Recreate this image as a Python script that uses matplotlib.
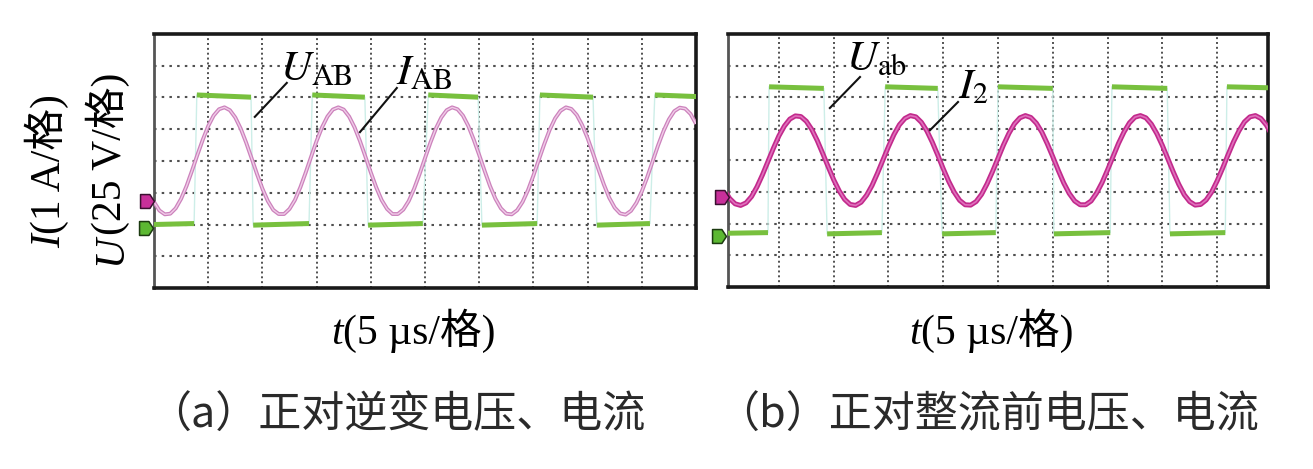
import numpy as np
import matplotlib
matplotlib.use("Agg")
import matplotlib.pyplot as plt
from matplotlib.path import Path

plt.rcParams['mathtext.fontset'] = 'stix'

# ---------------- data (divisions) ----------------
t_samp = np.round(np.arange(0, 101) * 0.1, 1)

# panel (a): inverter current I_AB (div, 1 A/div)
iab = [-1.29, -1.56, -1.68, -1.66, -1.49, -1.19, -0.79, -0.31, 0.19, 0.67,
       1.10, 1.43, 1.63, 1.69, 1.60, 1.37, 1.02, 0.58, 0.09, -0.41,
       -0.87, -1.26, -1.54, -1.67, -1.67, -1.51, -1.23, -0.83, -0.36, 0.14,
       0.63, 1.06, 1.40, 1.62, 1.69, 1.62, 1.40, 1.06, 0.63, 0.14,
       -0.36, -0.83, -1.23, -1.51, -1.67, -1.67, -1.53, -1.26, -0.87, -0.41,
       0.09, 0.58, 1.02, 1.37, 1.60, 1.69, 1.63, 1.43, 1.10, 0.67,
       0.19, -0.31, -0.79, -1.19, -1.49, -1.66, -1.68, -1.55, -1.29, -0.92,
       -0.46, 0.04, 0.53, 0.98, 1.34, 1.58, 1.69, 1.64, 1.45, 1.13,
       0.72, 0.24, -0.26, -0.74, -1.16, -1.47, -1.65, -1.69, -1.57, -1.32,
       -0.96, -0.51, -0.01, 0.49, 0.94, 1.31, 1.57, 1.68, 1.65, 1.48,
       1.17]

# panel (a): inverter voltage U_AB segments
uab_t0 = [0.00, 0.79, 1.83, 2.92, 3.95, 5.06, 6.05, 7.12, 8.17, 9.24]
uab_t1 = [0.74, 1.79, 2.86, 3.89, 4.96, 5.98, 7.07, 8.10, 9.15, 10.00]
uab_v0 = [-2.00, 2.08, -2.02, 2.08, -2.02, 2.08, -2.02, 2.08, -2.02, 2.08]
uab_v1 = [-1.97, 2.01, -1.97, 2.01, -1.97, 2.01, -1.97, 2.01, -1.97, 2.03]

# panel (b): rectifier-input current I_2
i2 = [-0.92, -1.20, -1.37, -1.42, -1.34, -1.14, -0.83, -0.45, -0.03, 0.39,
      0.78, 1.09, 1.31, 1.41, 1.39, 1.24, 0.98, 0.63, 0.22, -0.20,
      -0.61, -0.96, -1.23, -1.39, -1.42, -1.32, -1.10, -0.79, -0.40, 0.02,
      0.44, 0.82, 1.13, 1.33, 1.42, 1.38, 1.21, 0.94, 0.58, 0.17,
      -0.26, -0.66, -1.00, -1.26, -1.40, -1.41, -1.30, -1.07, -0.74, -0.35,
      0.07, 0.49, 0.86, 1.16, 1.35, 1.42, 1.36, 1.18, 0.90, 0.53,
      0.12, -0.31, -0.71, -1.04, -1.28, -1.40, -1.40, -1.28, -1.03, -0.70,
      -0.30, 0.12, 0.54, 0.90, 1.19, 1.37, 1.42, 1.35, 1.15, 0.85,
      0.48, 0.06, -0.36, -0.75, -1.08, -1.30, -1.41, -1.39, -1.25, -1.00,
      -0.65, -0.25, 0.18, 0.59, 0.94, 1.22, 1.38, 1.42, 1.33, 1.12,
      0.81]

# panel (b): rectifier-input voltage U_ab segments
uab2_t0 = [0.07, 0.82, 1.88, 2.94, 3.98, 5.00, 6.02, 7.08, 8.14, 9.18]
uab2_t1 = [0.80, 1.82, 2.88, 3.90, 4.96, 6.00, 7.05, 8.09, 9.15, 9.93]
uab2_v0 = [-2.30, 2.33, -2.32, 2.33, -2.32, 2.33, -2.32, 2.33, -2.32, 2.33]
uab2_v1 = [-2.28, 2.28, -2.28, 2.28, -2.28, 2.28, -2.28, 2.28, -2.28, 2.30]

# channel ground markers (x, y) in div
mark_a_i = (-0.13, -1.26)
mark_a_u = (-0.15, -2.11)
mark_b_i = (-0.04, -1.16)
mark_b_u = (-0.10, -2.39)

x_label = "(5 µs/格)"
y_label_i = "(1 A/格)"
y_label_u = "(25 V/格)"
captions = ["（a）正对逆变电压、电流", "（b）正对整流前电压、电流"]

# ---------------- figure ----------------
W, H = 1313, 469
fig = plt.figure(figsize=(W / 100, H / 100), dpi=100)

def fx(px):
    return px / W

def fy(py):
    return 1 - py / H

axA = fig.add_axes([fx(154), fy(288), fx(696) - fx(154), fy(34) - fy(288)])
axB = fig.add_axes([fx(728), fy(287), fx(1268) - fx(728), fy(34) - fy(287)])

GREEN = '#78c03e'
marker_path = Path([(-1, -1), (0.35, -1), (1, 0), (0.35, 1), (-1, 1), (-1, -1)],
                   [Path.MOVETO, Path.LINETO, Path.LINETO, Path.LINETO, Path.LINETO, Path.CLOSEPOLY])

def scope(ax, xlim):
    ax.set_xlim(*xlim)
    ax.set_ylim(-4, 4)
    ax.set_xticks([])
    ax.set_yticks([])
    for k in range(1, 10):
        ax.axvline(k, color='#505050', lw=1.4, ls=(0, (1.0, 1.5)), zorder=1)
    for k in range(-3, 4):
        ax.axhline(k, color='#505050', lw=1.5, ls=(0, (1.2, 2.5)), zorder=1)
    for s in ['top', 'bottom', 'right']:
        ax.spines[s].set_linewidth(2.6)
        ax.spines[s].set_color('#1a1a1a')
    ax.spines['left'].set_linewidth(2.0)
    ax.spines['left'].set_color('#555555')

def draw_voltage(ax, t0, t1, v0, v1):
    xs, ys = [], []
    for a, b, p, q in zip(t0, t1, v0, v1):
        xs += [a, b]
        ys += [p, q]
    ax.plot(xs, ys, color='#cdeee8', lw=1.0, zorder=2)
    for a, b, p, q in zip(t0, t1, v0, v1):
        ax.plot([a, b], [p, q], color=GREEN, lw=3.6, solid_capstyle='butt', zorder=3)

def draw_current(ax, t, v, outer, inner, lw_o, lw_i):
    ax.plot(t, v, color=outer, lw=lw_o, zorder=4, solid_capstyle='butt')
    ax.plot(t, v, color=inner, lw=lw_i, zorder=5, solid_capstyle='butt')

def draw_markers(ax, mi, mu):
    ax.plot([mi[0]], [mi[1]], marker=marker_path, ms=10, color='#c8309a',
            mec='#3a1030', mew=1.1, clip_on=False, zorder=10)
    ax.plot([mu[0]], [mu[1]], marker=marker_path, ms=10, color='#5cb832',
            mec='#1c3a10', mew=1.1, clip_on=False, zorder=10)

scope(axA, (0, 10))
draw_voltage(axA, uab_t0, uab_t1, uab_v0, uab_v1)
draw_current(axA, t_samp, iab, '#cc82bc', '#f0cce8', 2.8, 1.0)
draw_markers(axA, mark_a_i, mark_a_u)

scope(axB, (0.07, 9.93))
draw_voltage(axB, uab2_t0, uab2_t1, uab2_v0, uab2_v1)
draw_current(axB, t_samp, i2, '#c22a8c', '#e070bc', 3.6, 1.2)
draw_markers(axB, mark_b_i, mark_b_u)

# annotations
SERIF = 'Liberation Serif'
axA.text(2.32, 2.55, r'$U_{\mathrm{AB}}$', fontsize=31, va='baseline', ha='left', zorder=12)
axA.plot([2.45, 1.86], [2.46, 1.39], color='#111111', lw=1.5, zorder=12)
axA.text(4.46, 2.43, r'$I_{\mathrm{AB}}$', fontsize=31, va='baseline', ha='left', zorder=12)
axA.plot([4.48, 3.80], [2.30, 0.91], color='#111111', lw=1.5, zorder=12)

axB.text(2.22, 2.86, r'$U_{\mathrm{ab}}$', fontsize=31, va='baseline', ha='left', zorder=12)
axB.plot([2.48, 1.93], [2.64, 1.66], color='#111111', lw=1.5, zorder=12)
axB.text(4.27, 1.97, r'$I_{2}$', fontsize=31, va='baseline', ha='left', zorder=12)
axB.plot([4.27, 3.76], [1.85, 0.96], color='#111111', lw=1.5, zorder=12)

MIX = [SERIF, 'Noto Sans CJK SC']
FS = 30

# x labels: italic t followed by the unit text
for left_px in (331, 909):
    t1 = fig.text(fx(left_px), fy(344), 't', fontsize=FS, family=SERIF,
                  style='italic', ha='left', va='baseline')
    axA.annotate(x_label, xy=(1, 0), xycoords=t1, ha='left', va='bottom',
                 fontsize=FS, family=MIX, annotation_clip=False)

# y labels (rotated)
for sym, rest, right_px, bottom_px in (('I', y_label_i, 69, 248), ('U', y_label_u, 130, 265)):
    p1 = fig.text(fx(right_px), fy(bottom_px), sym, fontsize=FS, family=SERIF,
                  style='italic', rotation=90, ha='right', va='bottom')
    axA.annotate(rest, xy=(1, 1), xycoords=p1, ha='right', va='bottom',
                 rotation=90, fontsize=FS, family=MIX, annotation_clip=False)

# captions
fig.text(fx(148), fy(416), captions[0], fontsize=31, family=['Noto Sans CJK SC'],
         ha='left', va='center', color='#2a2a2a')
fig.text(fx(716), fy(416), captions[1], fontsize=31, family=['Noto Sans CJK SC'],
         ha='left', va='center', color='#2a2a2a')

fig.savefig('out.png', dpi=100, facecolor='white')
